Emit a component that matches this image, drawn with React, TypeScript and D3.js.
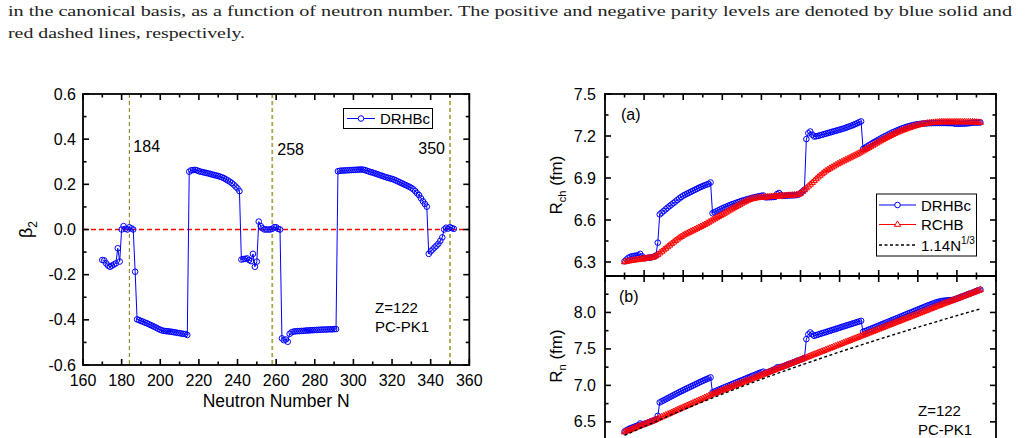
import { useRef, useEffect } from "react";
import * as d3 from "d3";

// neutron numbers of the Z=122 isotopic chain
const neutrons = d3.range(170, 353);

// quadrupole deformation, DRHBc
const beta2 = [
  -0.135, -0.137, -0.150, -0.160, -0.165, -0.160, -0.155, -0.150, -0.083, -0.142,
  0.000, 0.015, 0.003, 0.000, 0.010, 0.005, 0.000, -0.187, -0.398, -0.401,
  -0.405, -0.408, -0.412, -0.415, -0.419, -0.423, -0.427, -0.431, -0.435, -0.440,
  -0.444, -0.447, -0.449, -0.450, -0.451, -0.452, -0.453, -0.455, -0.456, -0.458,
  -0.459, -0.461, -0.462, -0.463, -0.467, 0.256, 0.262, 0.263, 0.264, 0.262,
  0.258, 0.256, 0.254, 0.252, 0.250, 0.248, 0.246, 0.243, 0.241, 0.239,
  0.237, 0.234, 0.231, 0.227, 0.222, 0.217, 0.212, 0.206, 0.199, 0.190,
  0.182, 0.170, -0.133, -0.131, -0.130, -0.128, -0.135, -0.140, -0.108, -0.165,
  -0.142, 0.035, 0.015, 0.005, 0.000, 0.000, 0.000, 0.000, 0.003, 0.010,
  0.010, 0.003, 0.000, -0.482, -0.490, -0.487, -0.497, -0.462, -0.455, -0.452,
  -0.451, -0.450, -0.450, -0.449, -0.449, -0.448, -0.447, -0.447, -0.446, -0.446,
  -0.445, -0.445, -0.444, -0.444, -0.443, -0.443, -0.443, -0.442, -0.442, -0.442,
  -0.441, -0.441, 0.258, 0.260, 0.261, 0.261, 0.262, 0.262, 0.263, 0.263,
  0.264, 0.264, 0.265, 0.265, 0.266, 0.265, 0.263, 0.260, 0.257, 0.254,
  0.252, 0.249, 0.246, 0.243, 0.240, 0.237, 0.234, 0.231, 0.229, 0.226,
  0.224, 0.221, 0.217, 0.213, 0.209, 0.205, 0.201, 0.197, 0.193, 0.189,
  0.184, 0.178, 0.170, 0.160, 0.152, 0.138, 0.125, 0.113, 0.101, -0.108,
  -0.097, -0.089, -0.080, -0.072, -0.063, -0.050, -0.035, 0.000, 0.008, 0.004,
  0.010, 0.006, 0.003,
];

// charge radius (fm)
const rchDRHBc = [
  6.305, 6.318, 6.330, 6.337, 6.341, 6.344, 6.346, 6.348, 6.358, 6.340,
  6.326, 6.328, 6.330, 6.332, 6.334, 6.338, 6.346, 6.438, 6.640, 6.652,
  6.664, 6.676, 6.688, 6.699, 6.710, 6.721, 6.732, 6.743, 6.754, 6.764,
  6.774, 6.781, 6.788, 6.795, 6.802, 6.809, 6.816, 6.823, 6.830, 6.836,
  6.842, 6.848, 6.853, 6.858, 6.868, 6.648, 6.655, 6.662, 6.669, 6.676,
  6.683, 6.689, 6.695, 6.701, 6.707, 6.712, 6.717, 6.722, 6.727, 6.732,
  6.737, 6.741, 6.745, 6.749, 6.753, 6.757, 6.761, 6.764, 6.767, 6.770,
  6.773, 6.775, 6.762, 6.762, 6.763, 6.763, 6.764, 6.765, 6.785, 6.793,
  6.780, 6.772, 6.773, 6.774, 6.775, 6.776, 6.776, 6.777, 6.778, 6.782,
  6.792, 6.804, 6.817, 7.178, 7.220, 7.232, 7.210, 7.196, 7.198, 7.201,
  7.205, 7.209, 7.213, 7.217, 7.221, 7.225, 7.229, 7.233, 7.237, 7.241,
  7.245, 7.249, 7.253, 7.258, 7.263, 7.268, 7.273, 7.279, 7.285, 7.291,
  7.298, 7.304, 7.107, 7.116, 7.125, 7.134, 7.142, 7.150, 7.158, 7.166,
  7.174, 7.182, 7.190, 7.197, 7.204, 7.211, 7.218, 7.225, 7.231, 7.237,
  7.243, 7.249, 7.254, 7.259, 7.264, 7.268, 7.272, 7.276, 7.279, 7.282,
  7.284, 7.286, 7.288, 7.289, 7.290, 7.291, 7.292, 7.292, 7.293, 7.293,
  7.293, 7.293, 7.293, 7.293, 7.293, 7.292, 7.292, 7.292, 7.292, 7.288,
  7.288, 7.288, 7.288, 7.288, 7.289, 7.290, 7.291, 7.293, 7.295, 7.296,
  7.296, 7.296, 7.297,
];

const rchRCHB = [
  6.300, 6.303, 6.306, 6.309, 6.311, 6.313, 6.315, 6.317, 6.319, 6.321,
  6.323, 6.325, 6.327, 6.329, 6.331, 6.335, 6.343, 6.353, 6.364, 6.375,
  6.386, 6.397, 6.408, 6.419, 6.430, 6.441, 6.452, 6.462, 6.472, 6.481,
  6.490, 6.497, 6.504, 6.511, 6.518, 6.525, 6.532, 6.539, 6.546, 6.553,
  6.560, 6.567, 6.575, 6.583, 6.591, 6.599, 6.607, 6.615, 6.623, 6.631,
  6.639, 6.647, 6.655, 6.663, 6.671, 6.679, 6.687, 6.695, 6.703, 6.711,
  6.719, 6.726, 6.733, 6.740, 6.745, 6.750, 6.753, 6.756, 6.758, 6.760,
  6.761, 6.762, 6.763, 6.764, 6.765, 6.766, 6.767, 6.768, 6.769, 6.770,
  6.771, 6.772, 6.773, 6.774, 6.775, 6.776, 6.777, 6.778, 6.779, 6.782,
  6.790, 6.802, 6.815, 6.828, 6.841, 6.854, 6.867, 6.880, 6.893, 6.906,
  6.918, 6.929, 6.940, 6.950, 6.959, 6.968, 6.976, 6.984, 6.992, 7.000,
  7.007, 7.014, 7.021, 7.028, 7.035, 7.042, 7.049, 7.056, 7.063, 7.070,
  7.077, 7.085, 7.093, 7.101, 7.109, 7.117, 7.125, 7.133, 7.141, 7.149,
  7.157, 7.165, 7.173, 7.181, 7.188, 7.195, 7.202, 7.209, 7.216, 7.222,
  7.228, 7.234, 7.240, 7.245, 7.250, 7.255, 7.260, 7.265, 7.269, 7.273,
  7.277, 7.280, 7.283, 7.286, 7.289, 7.291, 7.293, 7.295, 7.296, 7.297,
  7.298, 7.299, 7.300, 7.300, 7.300, 7.300, 7.300, 7.300, 7.300, 7.300,
  7.300, 7.300, 7.300, 7.300, 7.300, 7.300, 7.300, 7.300, 7.300, 7.299,
  7.298, 7.297, 7.296,
];

// neutron radius (fm)
const rnDRHBc = [
  6.368, 6.385, 6.400, 6.412, 6.422, 6.432, 6.442, 6.452, 6.478, 6.465,
  6.470, 6.480, 6.490, 6.500, 6.510, 6.521, 6.534, 6.582, 6.766, 6.781,
  6.795, 6.809, 6.823, 6.837, 6.851, 6.865, 6.879, 6.893, 6.907, 6.920,
  6.933, 6.946, 6.959, 6.972, 6.985, 6.998, 7.011, 7.024, 7.037, 7.050,
  7.062, 7.074, 7.086, 7.097, 7.109, 6.903, 6.915, 6.927, 6.939, 6.950,
  6.961, 6.972, 6.983, 6.994, 7.005, 7.016, 7.027, 7.038, 7.049, 7.060,
  7.071, 7.082, 7.093, 7.104, 7.115, 7.126, 7.137, 7.148, 7.159, 7.170,
  7.180, 7.188, 7.168, 7.178, 7.189, 7.199, 7.212, 7.222, 7.246, 7.246,
  7.252, 7.259, 7.270, 7.280, 7.291, 7.301, 7.312, 7.322, 7.333, 7.343,
  7.353, 7.364, 7.374, 7.634, 7.700, 7.726, 7.700, 7.680, 7.689, 7.697,
  7.706, 7.714, 7.723, 7.731, 7.740, 7.748, 7.757, 7.765, 7.774, 7.782,
  7.791, 7.800, 7.808, 7.817, 7.825, 7.834, 7.842, 7.851, 7.859, 7.868,
  7.876, 7.885, 7.734, 7.744, 7.754, 7.765, 7.775, 7.786, 7.797, 7.808,
  7.819, 7.830, 7.841, 7.852, 7.863, 7.874, 7.885, 7.896, 7.907, 7.918,
  7.929, 7.940, 7.951, 7.962, 7.973, 7.984, 7.995, 8.006, 8.017, 8.028,
  8.039, 8.050, 8.061, 8.072, 8.083, 8.094, 8.104, 8.114, 8.124, 8.134,
  8.142, 8.150, 8.156, 8.160, 8.163, 8.166, 8.168, 8.170, 8.172, 8.181,
  8.191, 8.201, 8.211, 8.222, 8.232, 8.242, 8.252, 8.262, 8.273, 8.283,
  8.293, 8.303, 8.313,
];

const rnRCHB = [
  6.360, 6.371, 6.381, 6.392, 6.402, 6.413, 6.423, 6.434, 6.444, 6.455,
  6.465, 6.476, 6.486, 6.497, 6.507, 6.518, 6.530, 6.542, 6.554, 6.566,
  6.578, 6.590, 6.602, 6.614, 6.626, 6.638, 6.650, 6.662, 6.674, 6.686,
  6.698, 6.710, 6.722, 6.734, 6.746, 6.758, 6.770, 6.782, 6.794, 6.806,
  6.818, 6.830, 6.842, 6.854, 6.866, 6.878, 6.889, 6.899, 6.910, 6.920,
  6.931, 6.941, 6.952, 6.962, 6.973, 6.983, 6.994, 7.004, 7.015, 7.025,
  7.036, 7.046, 7.057, 7.067, 7.078, 7.088, 7.099, 7.109, 7.120, 7.130,
  7.141, 7.151, 7.162, 7.172, 7.183, 7.193, 7.204, 7.214, 7.225, 7.235,
  7.246, 7.256, 7.267, 7.277, 7.288, 7.298, 7.309, 7.319, 7.330, 7.340,
  7.350, 7.361, 7.371, 7.382, 7.392, 7.403, 7.413, 7.424, 7.434, 7.445,
  7.455, 7.466, 7.476, 7.487, 7.497, 7.508, 7.518, 7.529, 7.539, 7.550,
  7.560, 7.571, 7.581, 7.592, 7.602, 7.613, 7.623, 7.634, 7.644, 7.655,
  7.665, 7.676, 7.686, 7.697, 7.707, 7.718, 7.728, 7.739, 7.749, 7.760,
  7.770, 7.781, 7.791, 7.802, 7.812, 7.823, 7.833, 7.844, 7.854, 7.865,
  7.875, 7.886, 7.896, 7.907, 7.917, 7.928, 7.938, 7.949, 7.959, 7.970,
  7.980, 7.991, 8.001, 8.012, 8.022, 8.033, 8.043, 8.054, 8.064, 8.075,
  8.085, 8.095, 8.105, 8.116, 8.126, 8.136, 8.146, 8.156, 8.167, 8.177,
  8.187, 8.197, 8.207, 8.218, 8.228, 8.238, 8.248, 8.258, 8.269, 8.279,
  8.289, 8.299, 8.310,
];

// 1.14 N^(1/3) reference curve
const fitN = [170, 180, 200, 220, 240, 260, 280, 300, 320, 340, 352];
const fitR = [6.315, 6.437, 6.667, 6.882, 7.085, 7.276, 7.458, 7.632, 7.797, 7.957, 8.049];

const magicN = [184, 258, 350];

const xMajor = d3.range(160, 361, 20);
const xMinor = d3.range(170, 360, 20);
const betaMajor = [-0.6, -0.4, -0.2, 0.0, 0.2, 0.4, 0.6];
const betaMinor = [-0.5, -0.3, -0.1, 0.1, 0.3, 0.5];
const rchMajor = [6.3, 6.6, 6.9, 7.2, 7.5];
const rchMinor = [6.45, 6.75, 7.05, 7.35];
const rnMajor = [6.0, 6.5, 7.0, 7.5, 8.0];
const rnMinor = [6.25, 6.75, 7.25, 7.75, 8.25];
const rnLabels = [6.5, 7.0, 7.5, 8.0];

const captionLines = [
  "in the canonical basis, as a function of neutron number. The positive and negative parity levels are denoted by blue solid and",
  "red dashed lines, respectively.",
];

const BLUE = "#0000ff";
const RED = "#ff0000";
const SANS = "'Liberation Sans', Arial, sans-serif";

type Sel = d3.Selection<SVGGElement, unknown, null, undefined>;

// vertical tick marks along a horizontal edge
function xTicks(g: Sel, sx: d3.ScaleLinear<number, number>, vals: number[], y0: number, dir: number, len: number) {
  vals.forEach((v) => {
    g.append("line")
      .attr("x1", sx(v)).attr("x2", sx(v))
      .attr("y1", y0).attr("y2", y0 + dir * len)
      .attr("stroke", "#000").attr("stroke-width", 1.6);
  });
}

// horizontal tick marks along a vertical edge
function yTicks(g: Sel, sy: d3.ScaleLinear<number, number>, vals: number[], x0: number, dir: number, len: number) {
  vals.forEach((v) => {
    g.append("line")
      .attr("y1", sy(v)).attr("y2", sy(v))
      .attr("x1", x0).attr("x2", x0 + dir * len)
      .attr("stroke", "#000").attr("stroke-width", 1.6);
  });
}

function App() {
  const svgRef = useRef<SVGSVGElement>(null);

  useEffect(() => {
    const svg = d3.select(svgRef.current);
    svg.selectAll("*").remove();

    // caption text above the figures
    const cap = svg.append("g")
      .attr("font-family", "'Liberation Serif', 'DejaVu Serif', serif")
      .attr("font-size", 15.5)
      .attr("fill", "#222");
    cap.append("text").attr("x", 8).attr("y", 16)
      .attr("textLength", 1004).attr("lengthAdjust", "spacingAndGlyphs")
      .text(captionLines[0]);
    cap.append("text").attr("x", 8).attr("y", 38)
      .attr("textLength", 237).attr("lengthAdjust", "spacingAndGlyphs")
      .text(captionLines[1]);

    // ---------- left: beta2 vs N ----------
    const x = d3.scaleLinear().domain([160, 360]).range([83, 469.3]);
    const y = d3.scaleLinear().domain([-0.6, 0.6]).range([365, 94]);
    const left = svg.append("g").attr("font-family", SANS);

    left.append("line")
      .attr("x1", x(160)).attr("x2", x(360))
      .attr("y1", y(0)).attr("y2", y(0))
      .attr("stroke", RED).attr("stroke-width", 1.3).attr("stroke-dasharray", "5,3");

    magicN.forEach((n, i) => {
      left.append("line")
        .attr("x1", x(n)).attr("x2", x(n))
        .attr("y1", y(0.6)).attr("y2", y(-0.6))
        .attr("stroke", i === 0 ? "#7a7a10" : "#a8a848")
        .attr("stroke-width", i === 0 ? 1 : 1.8)
        .attr("stroke-dasharray", "4,3");
    });
    left.append("text").attr("x", x(184) + 4).attr("y", 152).attr("font-size", 16).text("184");
    left.append("text").attr("x", x(258) + 5).attr("y", 155).attr("font-size", 16).text("258");
    left.append("text").attr("x", x(350) - 5).attr("y", 154).attr("font-size", 16)
      .attr("text-anchor", "end").text("350");

    const betaLine = d3.line<number>()
      .x((_, i) => x(neutrons[i]))
      .y((d) => y(d));
    left.append("path").datum(beta2)
      .attr("d", betaLine).attr("fill", "none")
      .attr("stroke", BLUE).attr("stroke-width", 1);
    left.append("g").selectAll("circle").data(beta2).join("circle")
      .attr("cx", (_, i) => x(neutrons[i]))
      .attr("cy", (d) => y(d))
      .attr("r", 2.8).attr("fill", "none")
      .attr("stroke", BLUE).attr("stroke-width", 1);

    // frame and ticks
    left.append("rect")
      .attr("x", x(160)).attr("y", y(0.6))
      .attr("width", x(360) - x(160)).attr("height", y(-0.6) - y(0.6))
      .attr("fill", "none").attr("stroke", "#000").attr("stroke-width", 1.8);
    xTicks(left, x, xMajor, y(-0.6), -1, 6);
    xTicks(left, x, xMinor, y(-0.6), -1, 3.5);
    xTicks(left, x, xMajor, y(0.6), 1, 6);
    xTicks(left, x, xMinor, y(0.6), 1, 3.5);
    yTicks(left, y, betaMajor, x(160), 1, 6);
    yTicks(left, y, betaMinor, x(160), 1, 3.5);
    yTicks(left, y, betaMajor, x(360), -1, 6);
    yTicks(left, y, betaMinor, x(360), -1, 3.5);

    xMajor.forEach((v) => {
      left.append("text").attr("x", x(v)).attr("y", 386)
        .attr("text-anchor", "middle").attr("font-size", 16).text(v);
    });
    betaMajor.forEach((v) => {
      left.append("text").attr("x", 76).attr("y", y(v) + 5.5)
        .attr("text-anchor", "end").attr("font-size", 16).text(v.toFixed(1));
    });
    left.append("text").attr("x", x(260)).attr("y", 407)
      .attr("text-anchor", "middle").attr("font-size", 17.5).text("Neutron Number N");
    const bl = left.append("text")
      .attr("transform", `translate(32,${y(0)}) rotate(-90)`)
      .attr("text-anchor", "middle").attr("font-size", 18);
    bl.append("tspan").text("β");
    bl.append("tspan").attr("font-size", 12).attr("dy", 5).text("2");

    // legend
    left.append("rect").attr("x", 343.5).attr("y", 108.5).attr("width", 89).attr("height", 20)
      .attr("fill", "#fff").attr("stroke", "#000").attr("stroke-width", 1);
    left.append("line").attr("x1", 347).attr("x2", 375).attr("y1", 118.5).attr("y2", 118.5)
      .attr("stroke", BLUE).attr("stroke-width", 1);
    left.append("circle").attr("cx", 361).attr("cy", 118.5).attr("r", 2.8)
      .attr("fill", "#fff").attr("stroke", BLUE);
    left.append("text").attr("x", 380).attr("y", 124).attr("font-size", 15).text("DRHBc");

    left.append("text").attr("x", 375).attr("y", 313).attr("font-size", 15).text("Z=122");
    left.append("text").attr("x", 375).attr("y", 332).attr("font-size", 15).text("PC-PK1");

    // ---------- right: radii vs N ----------
    const xr = d3.scaleLinear().domain([160, 360]).range([605, 996]);
    const ya = d3.scaleLinear().domain([6.2, 7.5]).range([276, 94]);
    const yb = d3.scaleLinear().domain([6.0, 8.5]).range([458.3, 276]);
    const right = svg.append("g").attr("font-family", SANS);

    const tri = d3.symbol().type(d3.symbolTriangle).size(17)();

    const drawSeries = (
      g: Sel,
      sy: d3.ScaleLinear<number, number>,
      vals: number[],
      color: string,
      marker: "circle" | "triangle",
    ) => {
      const line = d3.line<number>().x((_, i) => xr(neutrons[i])).y((d) => sy(d));
      g.append("path").datum(vals).attr("d", line)
        .attr("fill", "none").attr("stroke", color).attr("stroke-width", 1);
      if (marker === "circle") {
        g.append("g").selectAll("circle").data(vals).join("circle")
          .attr("cx", (_, i) => xr(neutrons[i]))
          .attr("cy", (d) => sy(d))
          .attr("r", 2.8).attr("fill", "none")
          .attr("stroke", color).attr("stroke-width", 1);
      } else {
        g.append("g").selectAll("path").data(vals).join("path")
          .attr("d", tri)
          .attr("transform", (d, i) => `translate(${xr(neutrons[i])},${sy(d)})`)
          .attr("fill", "none").attr("stroke", color).attr("stroke-width", 1);
      }
    };

    // panel (a): charge radius
    drawSeries(right, ya, rchDRHBc, BLUE, "circle");
    drawSeries(right, ya, rchRCHB, RED, "triangle");

    // panel (b): neutron radius
    drawSeries(right, yb, rnDRHBc, BLUE, "circle");
    drawSeries(right, yb, rnRCHB, RED, "triangle");
    const fitLine = d3.line<number>().x((d) => xr(d)).y((_, i) => yb(fitR[i]));
    right.append("path").datum(fitN).attr("d", fitLine)
      .attr("fill", "none").attr("stroke", "#000").attr("stroke-width", 1.4)
      .attr("stroke-dasharray", "3,2.5");

    // frames
    right.append("rect")
      .attr("x", xr(160)).attr("y", 94)
      .attr("width", xr(360) - xr(160)).attr("height", 458.3 - 94)
      .attr("fill", "none").attr("stroke", "#000").attr("stroke-width", 1.8);
    right.append("line").attr("x1", xr(160)).attr("x2", xr(360))
      .attr("y1", 276).attr("y2", 276).attr("stroke", "#000").attr("stroke-width", 1.8);

    xTicks(right, xr, xMajor, 94, 1, 6);
    xTicks(right, xr, xMinor, 94, 1, 3.5);
    xTicks(right, xr, xMajor, 276, -1, 6);
    xTicks(right, xr, xMinor, 276, -1, 3.5);
    xTicks(right, xr, xMajor, 276, 1, 6);
    xTicks(right, xr, xMinor, 276, 1, 3.5);
    yTicks(right, ya, rchMajor, xr(160), 1, 6);
    yTicks(right, ya, rchMinor, xr(160), 1, 3.5);
    yTicks(right, ya, rchMajor, xr(360), -1, 6);
    yTicks(right, ya, rchMinor, xr(360), -1, 3.5);
    yTicks(right, yb, rnMajor, xr(160), 1, 6);
    yTicks(right, yb, rnMinor, xr(160), 1, 3.5);
    yTicks(right, yb, rnMajor, xr(360), -1, 6);
    yTicks(right, yb, rnMinor, xr(360), -1, 3.5);

    rchMajor.forEach((v) => {
      right.append("text").attr("x", 596).attr("y", ya(v) + 5.5)
        .attr("text-anchor", "end").attr("font-size", 16).text(v.toFixed(1));
    });
    rnLabels.forEach((v) => {
      right.append("text").attr("x", 596).attr("y", yb(v) + 5.5)
        .attr("text-anchor", "end").attr("font-size", 16).text(v.toFixed(1));
    });

    const la = right.append("text")
      .attr("transform", `translate(562,185) rotate(-90)`)
      .attr("text-anchor", "middle").attr("font-size", 17);
    la.append("tspan").text("R");
    la.append("tspan").attr("font-size", 11).attr("dy", 4).text("ch");
    la.append("tspan").attr("dy", -4).text(" (fm)");

    const lb = right.append("text")
      .attr("transform", `translate(562,356) rotate(-90)`)
      .attr("text-anchor", "middle").attr("font-size", 17);
    lb.append("tspan").text("R");
    lb.append("tspan").attr("font-size", 11).attr("dy", 4).text("n");
    lb.append("tspan").attr("dy", -4).text(" (fm)");

    right.append("text").attr("x", 621).attr("y", 120).attr("font-size", 16).text("(a)");
    right.append("text").attr("x", 619).attr("y", 302).attr("font-size", 16).text("(b)");
    right.append("text").attr("x", 918).attr("y", 416).attr("font-size", 15).text("Z=122");
    right.append("text").attr("x", 918).attr("y", 435).attr("font-size", 15).text("PC-PK1");

    // legend for the radius panels
    const lg = right.append("g");
    lg.append("rect").attr("x", 876.5).attr("y", 194).attr("width", 100).attr("height", 62)
      .attr("fill", "#fff").attr("stroke", "#000").attr("stroke-width", 1);
    const rows = [
      { y: 205, color: BLUE, label: "DRHBc", marker: "circle" },
      { y: 224.5, color: RED, label: "RCHB", marker: "triangle" },
    ];
    rows.forEach((r) => {
      lg.append("line").attr("x1", 879).attr("x2", 916).attr("y1", r.y).attr("y2", r.y)
        .attr("stroke", r.color).attr("stroke-width", 1);
      if (r.marker === "circle") {
        lg.append("circle").attr("cx", 897.5).attr("cy", r.y).attr("r", 2.8)
          .attr("fill", "#fff").attr("stroke", r.color);
      } else {
        lg.append("path").attr("d", tri).attr("transform", `translate(897.5,${r.y})`)
          .attr("fill", "#fff").attr("stroke", r.color);
      }
      lg.append("text").attr("x", 921).attr("y", r.y + 5.5).attr("font-size", 15).text(r.label);
    });
    lg.append("line").attr("x1", 879).attr("x2", 916).attr("y1", 245).attr("y2", 245)
      .attr("stroke", "#000").attr("stroke-width", 1.4).attr("stroke-dasharray", "3,2.5");
    const ft = lg.append("text").attr("x", 921).attr("y", 250.5).attr("font-size", 15);
    ft.append("tspan").text("1.14N");
    ft.append("tspan").attr("font-size", 10).attr("dy", -7).text("1/3");
  }, []);

  return (
    <svg
      ref={svgRef}
      width={1028}
      height={438}
      style={{ position: "absolute", left: 0, top: 0, background: "#fff" }}
    ></svg>
  );
}

export default App;
